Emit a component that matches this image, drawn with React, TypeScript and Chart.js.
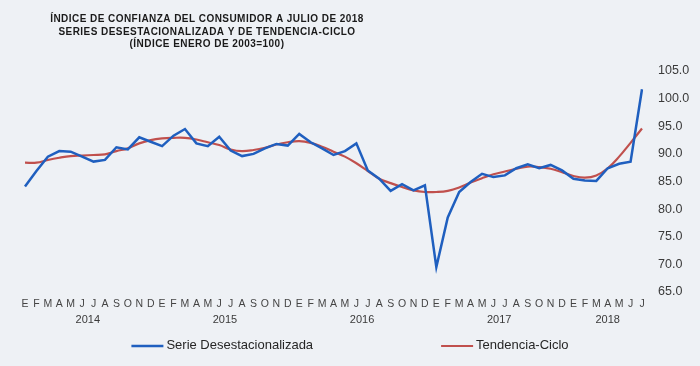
import React, { useEffect, useRef } from 'react';
import { Chart, registerables } from 'chart.js';

Chart.register(...registerables);

const monthLetters = ['E', 'F', 'M', 'A', 'M', 'J', 'J', 'A', 'S', 'O', 'N', 'D'];
const years = ['2014', '2015', '2016', '2017', '2018'];
const monthsPerYear = [12, 12, 12, 12, 7];

const serieDesestacionalizada = [
  84.1, 86.9, 89.5, 90.5, 90.4, 89.5, 88.6, 88.9, 91.2, 90.8, 93.0, 92.2,
  91.4, 93.3, 94.5, 91.9, 91.4, 93.1, 90.6, 89.6, 90.0, 91.0, 91.8, 91.5,
  93.6, 92.1, 91.0, 89.8, 90.5, 91.9, 87.0, 85.5, 83.3, 84.5, 83.4, 84.3,
  69.5, 78.5, 83.1, 84.9, 86.4, 85.8, 86.1, 87.4, 88.1, 87.4, 88.0, 87.0,
  85.5, 85.2, 85.1, 87.4, 88.2, 88.6, 101.7,
];

const tendenciaCiclo = [
  88.4, 88.4, 88.9, 89.3, 89.6, 89.7, 89.8, 89.9, 90.5, 91.0, 91.9, 92.5,
  92.8, 92.9, 92.9, 92.6, 92.1, 91.6, 90.8, 90.5, 90.7, 91.1, 91.7, 92.1,
  92.3, 92.0, 91.3, 90.4, 89.5, 88.3, 86.9, 85.5, 84.7, 84.0, 83.4, 83.1,
  83.1, 83.3, 83.9, 84.8, 85.6, 86.3, 86.8, 87.3, 87.7, 87.6, 87.3, 86.7,
  86.0, 85.7, 86.1, 87.4, 89.5, 92.0, 94.6,
];

const yMin = 65;
const yMax = 105;
const yStep = 5;

const titleLines = [
  'ÍNDICE DE CONFIANZA DEL CONSUMIDOR A JULIO DE 2018',
  'SERIES DESESTACIONALIZADA Y DE TENDENCIA-CICLO',
  '(ÍNDICE ENERO DE 2003=100)',
];

const seriesNames = ['Serie Desestacionalizada', 'Tendencia-Ciclo'];
const seriesColors = ['#1f5fbf', '#c0504d'];

const FONT = '"Liberation Sans", Arial, sans-serif';
const BG = '#eef1f5';

const labels: string[] = [];
const yearCenters: number[] = [];
{
  let idx = 0;
  monthsPerYear.forEach((n) => {
    for (let m = 0; m < n; m++) labels.push(monthLetters[m]);
    yearCenters.push(idx + (n - 1) / 2);
    idx += n;
  });
}

const bgPlugin = {
  id: 'bg',
  beforeDraw(chart: any) {
    const ctx = chart.ctx;
    ctx.save();
    ctx.fillStyle = BG;
    ctx.fillRect(0, 0, chart.width, chart.height);
    ctx.restore();
  },
};

const titlePlugin = {
  id: 'customTitle',
  afterDraw(chart: any) {
    const ctx = chart.ctx;
    ctx.save();
    ctx.font = `bold 10px ${FONT}`;
    ctx.fillStyle = '#1a1a1a';
    ctx.textAlign = 'center';
    ctx.textBaseline = 'alphabetic';
    (ctx as any).letterSpacing = '0.45px';
    const baselines = [21.8, 34.8, 47];
    titleLines.forEach((t, i) => ctx.fillText(t, 207, baselines[i]));
    ctx.restore();
  },
};

const legendPlugin = {
  id: 'customLegend',
  afterDraw(chart: any) {
    const ctx = chart.ctx;
    ctx.save();
    ctx.font = `13px ${FONT}`;
    ctx.textBaseline = 'middle';
    ctx.textAlign = 'left';
    const lineW = 32;
    const gapText = 3;
    const gapItems = 128;
    const ds = chart.data.datasets;
    const widths = ds.map((d: any) => lineW + gapText + ctx.measureText(d.label).width);
    const total = widths.reduce((a: number, b: number) => a + b, 0) + gapItems * (ds.length - 1);
    let x = (chart.width - total) / 2;
    const y = 345.5;
    ds.forEach((d: any, i: number) => {
      ctx.strokeStyle = d.borderColor;
      ctx.lineWidth = d.borderWidth;
      ctx.beginPath();
      ctx.moveTo(x, y + 0.5);
      ctx.lineTo(x + lineW, y + 0.5);
      ctx.stroke();
      ctx.fillStyle = '#262626';
      ctx.fillText(d.label, x + lineW + gapText, y);
      x += widths[i] + gapItems;
    });
    ctx.restore();
  },
};

export default function App() {
  const ref = useRef<HTMLCanvasElement>(null);

  useEffect(() => {
    if (!ref.current) return;
    const chart = new Chart(ref.current, {
      type: 'line',
      data: {
        labels,
        datasets: [
          {
            label: seriesNames[0],
            data: serieDesestacionalizada,
            borderColor: seriesColors[0],
            backgroundColor: seriesColors[0],
            borderWidth: 2.5,
            pointRadius: 0,
            tension: 0,
            xAxisID: 'x',
            yAxisID: 'y',
          },
          {
            label: seriesNames[1],
            data: tendenciaCiclo,
            borderColor: seriesColors[1],
            backgroundColor: seriesColors[1],
            borderWidth: 2.2,
            pointRadius: 0,
            tension: 0.4,
            xAxisID: 'x',
            yAxisID: 'y',
          },
        ],
      },
      options: {
        responsive: false,
        animation: false,
        devicePixelRatio: 1,
        layout: { padding: { left: 25, right: 0, top: 71, bottom: 38 } },
        plugins: {
          legend: { display: false },
          title: { display: false },
          tooltip: { enabled: false },
        },
        scales: {
          x: {
            type: 'category',
            position: 'bottom',
            weight: 0,
            offset: false,
            grid: { display: false, drawTicks: false },
            border: { display: false },
            ticks: {
              autoSkip: false,
              maxRotation: 0,
              padding: 6,
              color: '#444444',
              font: { family: FONT, size: 10.5 },
            },
            afterFit(scale: any) {
              scale.height = 20;
            },
          },
          x2: {
            type: 'linear',
            position: 'bottom',
            weight: 1,
            min: 0,
            max: labels.length - 1,
            grid: { display: false, drawTicks: false },
            border: { display: false },
            afterBuildTicks(scale: any) {
              scale.ticks = yearCenters.map((v) => ({ value: v }));
            },
            ticks: {
              autoSkip: false,
              maxRotation: 0,
              padding: 1,
              color: '#3a3a3a',
              font: { family: FONT, size: 11 },
              callback: (v: any) => {
                const i = yearCenters.indexOf(Number(v));
                return i >= 0 ? years[i] : '';
              },
            },
            afterFit(scale: any) {
              scale.height = 16;
            },
          },
          y: {
            type: 'linear',
            position: 'right',
            min: yMin,
            max: yMax,
            grid: { display: false, drawTicks: false },
            border: { display: false },
            ticks: {
              stepSize: yStep,
              padding: 16,
              color: '#3a3a3a',
              font: { family: FONT, size: 12.5 },
              callback: (v: any) => Number(v).toFixed(1),
            },
            afterFit(scale: any) {
              scale.width = 58;
            },
          },
        },
      },
      plugins: [bgPlugin, titlePlugin, legendPlugin],
    });
    return () => chart.destroy();
  }, []);

  return (
    <div style={{ position: 'absolute', left: 0, top: 0, width: 700, height: 366, background: BG }}>
      <canvas ref={ref} width={700} height={366} style={{ display: 'block' }} />
    </div>
  );
}
